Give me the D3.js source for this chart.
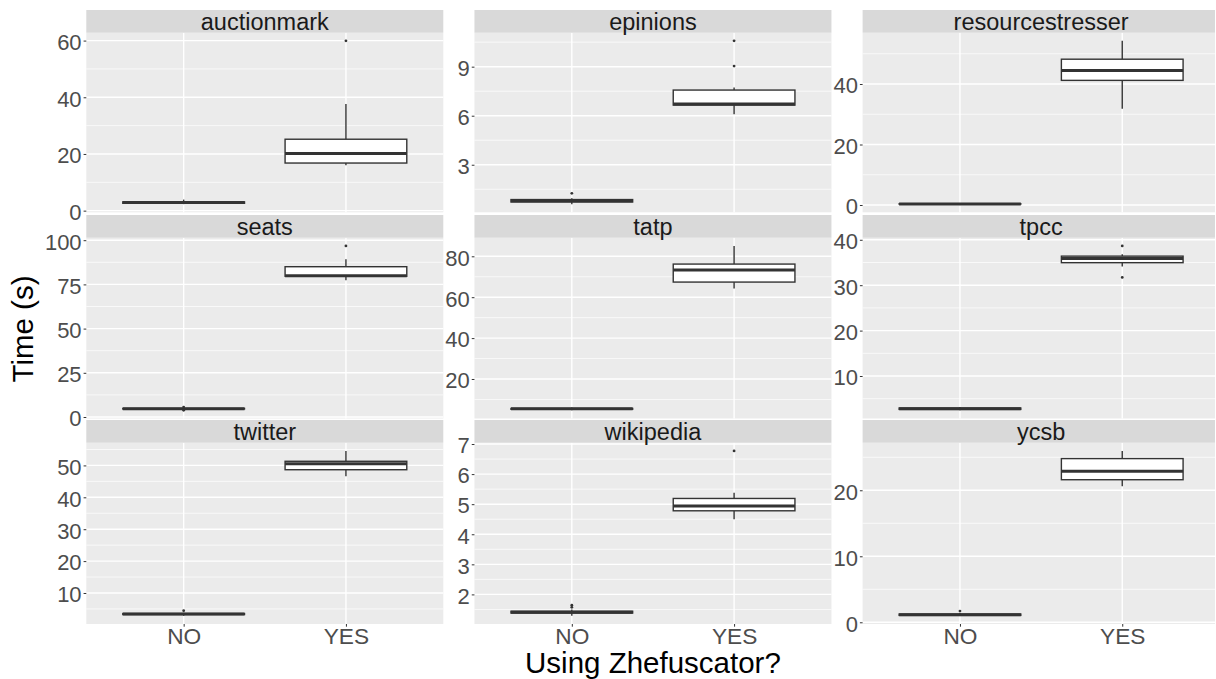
<!DOCTYPE html>
<html>
<head>
<meta charset="utf-8">
<script src="https://cdn.jsdelivr.net/npm/d3@7"></script>
<style>
  html, body { margin: 0; padding: 0; background: #ffffff; }
  svg { display: block; font-family: "Liberation Sans", Arial, Helvetica, sans-serif; }
</style>
</head>
<body>
<svg id="chart" width="1215" height="679"></svg>
<script>
// Benchmarks, one facet each
const benchmarks = ["auctionmark", "epinions", "resourcestresser",
                    "seats", "tatp", "tpcc",
                    "twitter", "wikipedia", "ycsb"];
const groups = ["NO", "YES"];

// Box statistics per benchmark: [lower whisker, Q1, median, Q3, upper whisker] (seconds)
const noStats = [
  [2.3, 2.6, 2.85, 3.1, 3.9],
  [0.59, 0.72, 0.80, 0.87, 0.95],
  [0.29, 0.32, 0.36, 0.40, 0.45],
  [4.4, 4.55, 4.7, 4.85, 5.0],
  [4.7, 5.2, 5.4, 5.6, 6.0],
  [2.45, 2.65, 2.8, 2.95, 3.2],
  [2.86, 3.25, 3.4, 3.55, 3.8],
  [1.29, 1.38, 1.41, 1.44, 1.50],
  [0.99, 1.05, 1.15, 1.25, 1.4]
];
const yesStats = [
  [16.0, 16.8, 20.2, 25.2, 37.6],
  [6.09, 6.65, 6.72, 7.57, 7.72],
  [31.8, 41.2, 44.5, 48.2, 54.26],
  [77.3, 79.6, 79.9, 85.0, 89.2],
  [64.3, 67.4, 73.3, 76.2, 85.08],
  [34.1, 34.96, 35.9, 36.4, 36.8],
  [46.6, 48.65, 50.5, 51.3, 54.54],
  [4.50, 4.78, 4.94, 5.19, 5.38],
  [20.6, 21.6, 22.9, 24.8, 25.96]
];
// Outlying runs
const noOutliers = [
  [], [1.25], [], [3.8, 5.6], [], [], [4.45], [1.57, 1.64], [1.7]
];
const yesOutliers = [
  [59.9], [9.04, 10.58], [], [96.76], [], [31.7, 38.65], [], [6.77], []
];
// Y-axis tick labels per facet
const yTicks = [
  [0, 20, 40, 60],
  [3, 6, 9],
  [0, 20, 40],
  [0, 25, 50, 75, 100],
  [20, 40, 60, 80],
  [10, 20, 30, 40],
  [10, 20, 30, 40, 50],
  [2, 3, 4, 5, 6, 7],
  [0, 10, 20]
];
const xTitle = "Using Zhefuscator?";
const yTitle = "Time (s)";

// Facet grid geometry
const panelLeft0 = 86.3, colStep = 388.15, panelW = 357;
const panelTops = [32.7, 237.7, 442.7];
const panelBottoms = [212.3, 418.5, 624];
const stripH = 22.7;

const svg = d3.select("#chart");

const tickFont = 22;
const stripFont = 23.5;
const titleFont = 29.5;

benchmarks.forEach((name, i) => {
  const col = i % 3, row = Math.floor(i / 3);
  const left = panelLeft0 + col * colStep;
  const top = panelTops[row];
  const H = panelBottoms[row] - top;

  const boxes = groups.map((g, k) => {
    const s = k === 0 ? noStats[i] : yesStats[i];
    const o = k === 0 ? noOutliers[i] : yesOutliers[i];
    return { group: g, min: s[0], q1: s[1], med: s[2], q3: s[3], max: s[4], out: o };
  });

  // Free y scale with 5% padding around the data extent
  const allVals = boxes.flatMap(b => [b.min, b.max, ...b.out]);
  const lo = d3.min(allVals), hi = d3.max(allVals), r = hi - lo;
  const y = d3.scaleLinear().domain([lo - 0.05 * r, hi + 0.05 * r]).range([H, 0]);
  const x = d3.scalePoint().domain(groups).range([0, panelW]).padding(0.6);
  const boxW = x.step() * 0.75;

  const g = svg.append("g").attr("transform", `translate(${left},${top})`);

  // Strip
  svg.append("rect")
    .attr("x", left).attr("y", top - stripH)
    .attr("width", panelW).attr("height", stripH)
    .attr("fill", "#D9D9D9");
  svg.append("text")
    .attr("x", left + panelW / 2).attr("y", top - stripH + 19.7)
    .attr("text-anchor", "middle")
    .attr("font-size", stripFont)
    .attr("fill", "#1A1A1A")
    .text(name);

  // Panel background
  g.append("rect").attr("width", panelW).attr("height", H).attr("fill", "#EBEBEB");

  // Minor gridlines halfway between major ticks
  const ticks = yTicks[i];
  const step = ticks[1] - ticks[0];
  const [d0, d1] = y.domain();
  const minors = [];
  for (let v = ticks[0] - step / 2; v <= d1; v += step) {
    if (v >= d0) minors.push(v);
  }
  g.selectAll(".minor").data(minors).enter().append("line")
    .attr("x1", 0).attr("x2", panelW)
    .attr("y1", d => y(d)).attr("y2", d => y(d))
    .attr("stroke", "#FFFFFF").attr("stroke-width", 0.7);

  // Major gridlines
  g.selectAll(".major").data(ticks).enter().append("line")
    .attr("x1", 0).attr("x2", panelW)
    .attr("y1", d => y(d)).attr("y2", d => y(d))
    .attr("stroke", "#FFFFFF").attr("stroke-width", 1.4);
  g.selectAll(".vmajor").data(groups).enter().append("line")
    .attr("x1", d => x(d)).attr("x2", d => x(d))
    .attr("y1", 0).attr("y2", H)
    .attr("stroke", "#FFFFFF").attr("stroke-width", 1.4);

  // Y axis ticks and labels
  const yAxis = d3.axisLeft(y).tickValues(ticks).tickFormat(d => String(d))
    .tickSize(2.7).tickPadding(2);
  const ax = g.append("g").call(yAxis);
  ax.select(".domain").remove();
  ax.selectAll(".tick line").attr("stroke", "#333333").attr("stroke-width", 1);
  ax.selectAll(".tick text")
    .attr("font-size", tickFont)
    .attr("font-family", "'Liberation Sans', Arial, sans-serif")
    .attr("fill", "#4D4D4D")
    .attr("dy", "0.4em");

  // Bottom row carries the x axis
  if (row === 2) {
    const xAxis = d3.axisBottom(x).tickSize(2.7).tickPadding(2);
    const axx = g.append("g").attr("transform", `translate(0,${H})`).call(xAxis);
    axx.select(".domain").remove();
    axx.selectAll(".tick line").attr("stroke", "#333333").attr("stroke-width", 1);
    axx.selectAll(".tick text")
      .attr("font-size", 22.7)
      .attr("font-family", "'Liberation Sans', Arial, sans-serif")
      .attr("fill", "#4D4D4D")
      .attr("y", 643.7 - panelBottoms[2])
      .attr("dy", 0);
  }

  // Box plots
  const bg = g.selectAll(".box").data(boxes).enter().append("g");
  bg.append("line")
    .attr("x1", d => x(d.group)).attr("x2", d => x(d.group))
    .attr("y1", d => y(d.q3)).attr("y2", d => y(d.max))
    .attr("stroke", "#333333").attr("stroke-width", 1.4);
  bg.append("line")
    .attr("x1", d => x(d.group)).attr("x2", d => x(d.group))
    .attr("y1", d => y(d.q1)).attr("y2", d => y(d.min))
    .attr("stroke", "#333333").attr("stroke-width", 1.4);
  bg.append("rect")
    .attr("x", d => x(d.group) - boxW / 2)
    .attr("y", d => y(d.q3))
    .attr("width", boxW)
    .attr("height", d => Math.max(0, y(d.q1) - y(d.q3)))
    .attr("fill", "#FFFFFF")
    .attr("stroke", "#333333").attr("stroke-width", 1.4);
  bg.append("line")
    .attr("x1", d => x(d.group) - boxW / 2).attr("x2", d => x(d.group) + boxW / 2)
    .attr("y1", d => y(d.med)).attr("y2", d => y(d.med))
    .attr("stroke", "#333333").attr("stroke-width", 3);
  bg.each(function(d) {
    d3.select(this).selectAll("circle").data(d.out).enter().append("circle")
      .attr("cx", x(d.group)).attr("cy", v => y(v))
      .attr("r", 1.4).attr("fill", "#333333");
  });
});

// Axis titles
svg.append("text")
  .attr("x", panelLeft0 + (2 * colStep + panelW) / 2)
  .attr("y", 673)
  .attr("text-anchor", "middle")
  .attr("font-size", titleFont)
  .attr("fill", "#000000")
  .text(xTitle);
svg.append("text")
  .attr("transform", "translate(32.7,329) rotate(-90)")
  .attr("text-anchor", "middle")
  .attr("font-size", titleFont)
  .attr("fill", "#000000")
  .text(yTitle);
</script>
</body>
</html>
